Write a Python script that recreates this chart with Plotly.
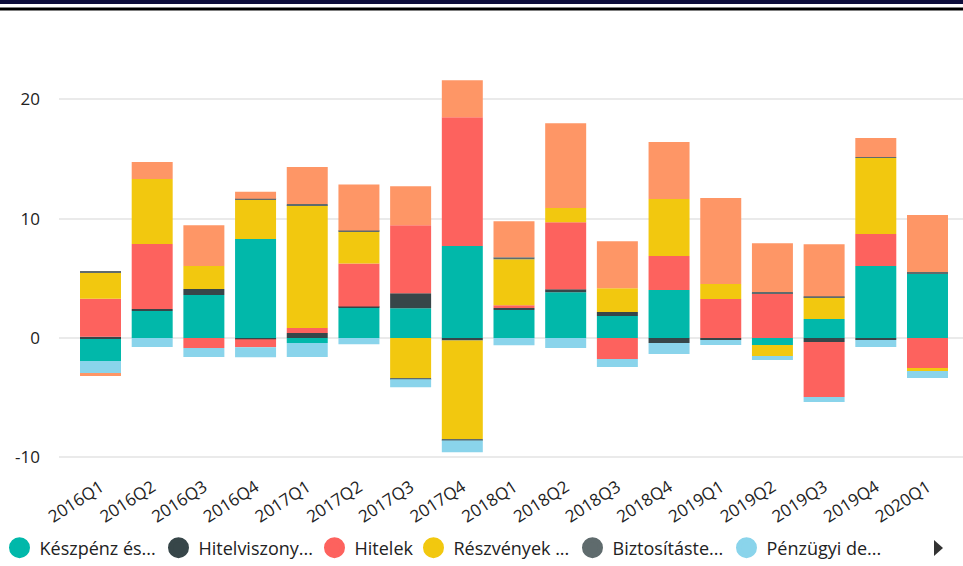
import plotly.graph_objects as go

quarters = ['2016Q1', '2016Q2', '2016Q3', '2016Q4', '2017Q1', '2017Q2', '2017Q3', '2017Q4',
            '2018Q1', '2018Q2', '2018Q3', '2018Q4', '2019Q1', '2019Q2', '2019Q3', '2019Q4', '2020Q1']

keszpenz = [-1.93, 2.26, 3.6, 8.3, -0.42, 2.57, 2.49, 7.71, 2.35, 3.83, 1.84, 4.02, 0, -0.59, 1.59, 6.04, 5.45]
hitelviszony = [0.1, 0.17, 0.5, -0.1, 0.42, 0.08, 1.26, -0.2, 0.17, 0.25, 0.34, -0.42, -0.17, 0, -0.34, -0.17, 0]
hitelek = [3.2, 5.45, -0.84, -0.67, 0.42, 3.6, 5.7, 10.79, 0.22, 5.62, -1.76, 2.85, 3.27, 3.77, -4.61, 2.68, -2.51]
reszvenyek = [2.18, 5.45, 1.93, 3.27, 10.3, 2.68, -3.38, -8.3, 3.86, 1.2, 2.0, 4.78, 1.26, -0.92, 1.84, 6.37, -0.25]
biztositas = [0.1, 0, 0, 0.1, 0.1, 0.08, -0.08, -0.08, 0.17, 0, 0, 0, 0, 0.08, 0.08, 0.08, 0.08]
penzugyi = [-1.0, -0.75, -0.75, -0.84, -1.17, -0.53, -0.67, -1.0, -0.61, -0.84, -0.67, -0.92, -0.42, -0.34, -0.42, -0.59, -0.59]
egyeb = [-0.25, 1.42, 3.43, 0.59, 3.1, 3.85, 3.27, 3.1, 3.02, 7.1, 3.94, 4.78, 7.21, 4.1, 4.36, 1.59, 4.78]

series_names = ['Készpénz és...', 'Hitelviszony...', 'Hitelek', 'Részvények ...',
                'Biztosításte...', 'Pénzügyi de...', 'Egyéb...']
series_values = [keszpenz, hitelviszony, hitelek, reszvenyek, biztositas, penzugyi, egyeb]
colors = ['#01B8AA', '#374649', '#FD625E', '#F2C80F', '#5F6B6D', '#8AD4EB', '#FE9666']

# legend circle centres in pixels (figure coords)
legend_px = [21, 180, 336, 435, 594, 748]

FONT = 'Open Sans, Noto Sans, sans-serif'
TXT = '#222222'
L, R, T, B = 59, 0, 40, 96
W, H = 963, 566
PW, PH = W - L - R, H - T - B


def px_x(p):
    return (p - L) / PW


def px_y(p):
    return (T + PH - p) / PH


fig = go.Figure()
for name, vals, col in zip(series_names, series_values, colors):
    fig.add_trace(go.Bar(x=quarters, y=vals, name=name, marker=dict(color=col, line=dict(width=0)),
                         showlegend=False))

for i, (name, col) in enumerate(zip(series_names[:6], colors[:6])):
    lg = 'legend' if i == 0 else f'legend{i + 1}'
    fig.add_trace(go.Scatter(x=[None], y=[None], mode='markers', name=name, legend=lg,
                             marker=dict(symbol='circle', size=16, color=col, line=dict(color=col, width=5)),
                             showlegend=True, hoverinfo='skip'))

layout_legends = {}
for i, cx in enumerate(legend_px):
    key = 'legend' if i == 0 else f'legend{i + 1}'
    layout_legends[key] = dict(
        x=px_x(cx - 1.5 - 20), xanchor='left', y=px_y(548), yanchor='middle',
        orientation='h', bgcolor='rgba(0,0,0,0)', borderwidth=0,
        font=dict(family=FONT, size=18, color=TXT), itemsizing='trace')

shapes = [
    dict(type='rect', xref='paper', yref='paper', x0=-0.08, x1=1.02,
         y0=px_y(4), y1=px_y(-0.5), fillcolor='#0E0E3C', line=dict(width=0), layer='above'),
    dict(type='rect', xref='paper', yref='paper', x0=-0.08, x1=1.02,
         y0=px_y(10.5), y1=px_y(7.5), fillcolor='#000000', line=dict(width=0), layer='above'),
    dict(type='path', xref='paper', yref='paper',
         path=f'M {px_x(934)} {px_y(540)} L {px_x(934)} {px_y(556)} L {px_x(943)} {px_y(548)} Z',
         fillcolor='#333333', line=dict(width=0), layer='above'),
]

fig.update_layout(
    width=W, height=H,
    margin=dict(l=L, r=R, t=T, b=B, autoexpand=False),
    barmode='relative', bargap=0.207,
    plot_bgcolor='white', paper_bgcolor='white',
    font=dict(family=FONT, size=17, color=TXT),
    xaxis=dict(type='category', range=[-0.803, 16.687], tickangle=-33, showgrid=False,
               zeroline=False, showline=False, ticks='', automargin=False, ticklabelstandoff=3,
               tickfont=dict(size=17, color=TXT)),
    yaxis=dict(range=[-11.06, 24.98], tickvals=[-10, 0, 10, 20], ticktext=['-10', '0', '10', '20'],
               showgrid=True, gridcolor='#EAEAEA', gridwidth=2, zeroline=False, showline=False,
               ticks='', ticklabelstandoff=18, automargin=False, tickfont=dict(size=17, color=TXT)),
    shapes=shapes,
    **layout_legends,
)

fig.write_html('out.html', config={'displayModeBar': False},
               post_script="document.body.style.margin='0';document.body.style.padding='0';")
